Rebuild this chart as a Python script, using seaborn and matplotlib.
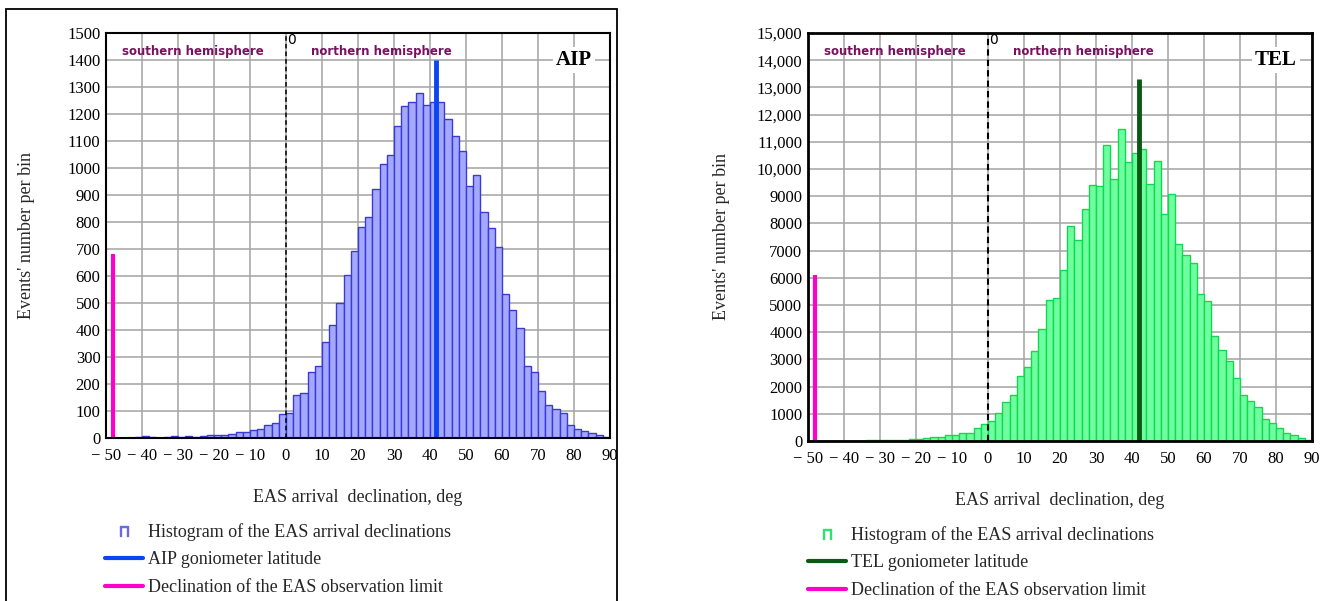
import numpy as np
import pandas as pd
import matplotlib
matplotlib.use("Agg")
import matplotlib.pyplot as plt
import seaborn as sns
from matplotlib.lines import Line2D
from matplotlib.patches import Rectangle
from matplotlib.transforms import blended_transform_factory

# ---------------- data ----------------
bin_left = list(range(-50, 90, 2))          # 2-degree bins, -50 .. 90
bin_edges = list(range(-50, 91, 2))

aip_counts = [0, 0, 0, 0, 2, 8, 2, 0, 2, 6, 2, 7, 3, 8, 10, 12, 12, 13,
              21, 21, 28, 34, 49, 55, 88, 92, 159, 165, 243, 265, 357, 420,
              500, 603, 694, 781, 817, 924, 1014, 1049, 1157, 1231, 1246,
              1277, 1235, 1246, 1246, 1182, 1117, 1063, 935, 975, 836, 776,
              706, 535, 475, 407, 267, 243, 174, 124, 109, 93, 50, 35, 27,
              19, 10, 2]

tel_counts = [0, 0, 0, 0, 0, 0, 0, 0, 40, 45, 50, 50, 55, 55, 60, 75, 100,
              137, 160, 210, 224, 310, 310, 460, 620, 750, 1040, 1440, 1704,
              2407, 2716, 3309, 4111, 5185, 5247, 6296, 7900, 7383, 8543,
              9420, 9383, 10889, 9630, 11457, 10247, 10580, 10741, 9444,
              10284, 8333, 9074, 7247, 6852, 6543, 5407, 5148, 3852, 3358,
              2938, 2309, 1704, 1457, 1259, 802, 654, 494, 309, 222, 123, 37]

x_ticks = [-50, -40, -30, -20, -10, 0, 10, 20, 30, 40, 50, 60, 70, 80, 90]
x_tick_labels = ["\u2212 50", "\u2212 40", "\u2212 30", "\u2212 20", "\u2212 10",
                 "0", "10", "20", "30", "40", "50", "60", "70", "80", "90"]

aip_yticks = list(range(0, 1501, 100))
aip_ylabels = [str(v) for v in aip_yticks]
tel_yticks = list(range(0, 15001, 1000))
tel_ylabels = ["0", "1000", "2000", "3000", "4000", "5000", "6000", "7000",
               "8000", "9000", "10,000", "11,000", "12,000", "13,000",
               "14,000", "15,000"]

aip_lat, aip_lat_top = 41.8, 1400
tel_lat, tel_lat_top = 41.9, 13300
limit_decl = -48
aip_limit_top, tel_limit_top = 680, 6100

# ---------------- style ----------------
sns.set_style("white")
plt.rcParams["font.family"] = ["Liberation Serif", "DejaVu Serif"]
plt.rcParams["axes.unicode_minus"] = True

W, H = 1333, 601
fig = plt.figure(figsize=(W / 100, H / 100), dpi=100)


def fx(px):
    return px / W


def fy(py):
    return 1 - py / H


def panel(rect, counts, fill, edge, lat, lat_top, lat_color, limit_top,
          ymax, yticks, ylabels, name, lat_label, hist_marker_color,
          ylab_x, leg_anchor, spine_lw, zero_lw):
    ax = fig.add_axes(rect)
    df = pd.DataFrame({"decl": np.array(bin_left) + 1, "n": counts})
    sns.histplot(data=df, x="decl", weights="n", bins=bin_edges, ax=ax,
                 color=fill, edgecolor=edge, linewidth=1.0, alpha=1.0)
    ax.set_xlim(-50, 90)
    ax.set_ylim(0, ymax)
    ax.set_axisbelow(True)
    ax.grid(True, color="#a3a3a3", lw=1.1)
    ax.set_xticks(x_ticks)
    ax.set_xticklabels(x_tick_labels, fontsize=12)
    ax.set_yticks(yticks)
    ax.set_yticklabels(ylabels, fontsize=12)
    ax.tick_params(length=0, pad=4, colors="black")
    ax.tick_params(axis="x", pad=7)
    for s in ax.spines.values():
        s.set_color("black")
        s.set_linewidth(spine_lw)
    ax.axvline(0, color="black", ls=(0, (3, 2)), lw=zero_lw)
    ax.vlines(lat, 0, lat_top, color=lat_color, lw=3.5)
    ax.vlines(limit_decl, 0, limit_top, color="#ff00cc", lw=3)

    ax.set_xlabel("EAS arrival  declination, deg", fontsize=13)
    ax.xaxis.set_label_coords(0.5, -0.125)
    ax.set_ylabel("Events' number per bin", fontsize=13)
    ax.yaxis.set_label_coords(ylab_x, 0.5)

    tr = blended_transform_factory(ax.transData, ax.transAxes)
    ax.text(-26, 0.955, "southern hemisphere", transform=tr, ha="center",
            va="center", fontsize=8.5, fontweight="bold", color="#7a1060",
            family="DejaVu Sans")
    ax.text(26.5, 0.955, "northern hemisphere", transform=tr, ha="center",
            va="center", fontsize=8.5, fontweight="bold", color="#7a1060",
            family="DejaVu Sans")
    ax.text(0.4, 1.0, "0", transform=tr, ha="left", va="top", fontsize=10,
            family="DejaVu Sans", color="black")
    ax.text(80, yticks[-2], name, ha="center", va="center", fontsize=15,
            fontweight="bold", color="black",
            bbox=dict(facecolor="white", edgecolor="none", pad=2))

    handles = [
        Line2D([], [], ls="none", marker=r"$\sqcap$", markersize=7,
               color=hist_marker_color),
        Line2D([], [], color=lat_color, lw=3),
        Line2D([], [], color="#ff00cc", lw=3),
    ]
    labels = ["Histogram of the EAS arrival declinations", lat_label,
              "Declination of the EAS observation limit"]
    ax.legend(handles, labels, loc="upper left", bbox_to_anchor=leg_anchor,
              bbox_transform=fig.transFigure, frameon=False, fontsize=13,
              handlelength=2.1, handletextpad=0.3, labelspacing=0.58,
              borderaxespad=0, borderpad=0)
    return ax


panel([fx(106), fy(438), fx(610 - 106), (438 - 33) / H], aip_counts,
      "#a4a8ff", "#3a3ad6", aip_lat, aip_lat_top, "#0a46f0", aip_limit_top,
      1500, aip_yticks, aip_ylabels, "AIP", "AIP goniometer latitude",
      "#6a6ae0", -0.14, (fx(105), fy(523)), 1.5, 1.1)

panel([fx(808), fy(441), fx(1312 - 808), (441 - 33) / H], tel_counts,
      "#70ffa0", "#10d850", tel_lat, tel_lat_top, "#0a5a14", tel_limit_top,
      15000, tel_yticks, tel_ylabels, "TEL", "TEL goniometer latitude",
      "#30e070", -0.155, (fx(808), fy(526)), 2.0, 1.5)

# frame around the left panel
fig.add_artist(Rectangle((fx(6), -0.02), fx(617 - 6), fy(9) + 0.02,
                         transform=fig.transFigure, fill=False,
                         ec="black", lw=1.3))

fig.savefig("out.png", dpi=100)
